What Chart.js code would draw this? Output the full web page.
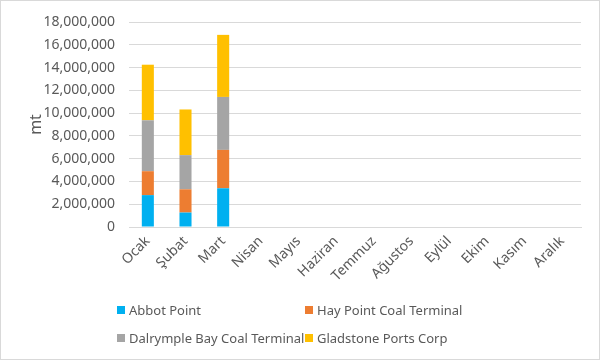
<!DOCTYPE html>
<html lang="tr">
<head>
    <meta charset="UTF-8">
    <title>Aylık sevkiyat (mt)</title>
    <style>
        body {
            margin: 0;
            background: #fff;
            font-family: "Noto Sans", sans-serif;
        }
        #wrap {
            position: relative;
            width: 598px;
            height: 358px;
            border: 1px solid #d9d9d9;
        }
        .legend-item {
            position: absolute;
            font-size: 13px;
            color: #595959;
            white-space: nowrap;
            line-height: 16px;
        }
        .legend-item span {
            display: inline-block;
            width: 8px;
            height: 8px;
            margin-right: 4px;
            vertical-align: 1px;
        }
    </style>
    <script src="https://cdn.jsdelivr.net/npm/chart.js"></script>
</head>
<body>
    <div id="wrap">
        <canvas id="chartCanvas" width="598" height="358"></canvas>
        <div class="legend-item" style="left:116px; top:301px;"><span style="background:#00B0F0"></span>Abbot Point</div>
        <div class="legend-item" style="left:304px; top:301px;"><span style="background:#ED7D31"></span>Hay Point Coal Terminal</div>
        <div class="legend-item" style="left:116px; top:329px;"><span style="background:#A5A5A5"></span>Dalrymple Bay Coal Terminal</div>
        <div class="legend-item" style="left:304px; top:329px;"><span style="background:#FFC000"></span>Gladstone Ports Corp</div>
    </div>

    <script>
        const months = ['Ocak', 'Şubat', 'Mart', 'Nisan', 'Mayıs', 'Haziran', 'Temmuz', 'Ağustos', 'Eylül', 'Ekim', 'Kasım', 'Aralık'];
        const abbotPoint = [2800000, 1270000, 3400000, null, null, null, null, null, null, null, null, null];
        const hayPoint = [2100000, 2040000, 3370000, null, null, null, null, null, null, null, null, null];
        const dalrympleBay = [4470000, 3000000, 4650000, null, null, null, null, null, null, null, null, null];
        const gladstone = [4880000, 4010000, 5450000, null, null, null, null, null, null, null, null, null];

        const textColor = '#595959';
        const fontSpec = { family: '"Noto Sans", sans-serif', size: 14 };

        function makeSet(label, data, color) {
            return {
                label: label,
                data: data,
                backgroundColor: color,
                borderWidth: 0,
                barPercentage: 0.32,
                categoryPercentage: 1
            };
        }

        new Chart(document.getElementById('chartCanvas').getContext('2d'), {
            type: 'bar',
            data: {
                labels: months,
                datasets: [
                    makeSet('Abbot Point', abbotPoint, '#00B0F0'),
                    makeSet('Hay Point Coal Terminal', hayPoint, '#ED7D31'),
                    makeSet('Dalrymple Bay Coal Terminal', dalrympleBay, '#A5A5A5'),
                    makeSet('Gladstone Ports Corp', gladstone, '#FFC000')
                ]
            },
            options: {
                responsive: false,
                animation: false,
                layout: {
                    padding: { left: 22, right: 18, top: 17, bottom: 74 }
                },
                plugins: {
                    legend: { display: false },
                    tooltip: { enabled: false }
                },
                scales: {
                    x: {
                        stacked: true,
                        grid: { display: false, drawTicks: false },
                        border: { color: '#d9d9d9' },
                        ticks: {
                            color: textColor,
                            font: fontSpec,
                            minRotation: 45,
                            maxRotation: 45,
                            padding: 6
                        },
                        afterFit: function(scale) { scale.height = 58; }
                    },
                    y: {
                        stacked: true,
                        min: 0,
                        max: 18000000,
                        title: {
                            display: true,
                            text: 'mt',
                            color: textColor,
                            font: { family: '"Noto Sans", sans-serif', size: 16 }
                        },
                        grid: { color: '#d9d9d9', drawTicks: false },
                        border: { display: false },
                        ticks: {
                            stepSize: 2000000,
                            color: textColor,
                            font: { family: '"Noto Sans", sans-serif', size: 14, lineHeight: 1 },
                            padding: 14,
                            callback: function(v) { return v.toLocaleString('en-US'); }
                        },
                        afterFit: function(scale) { scale.width = 106; }
                    }
                }
            }
        });
    </script>
</body>
</html>
